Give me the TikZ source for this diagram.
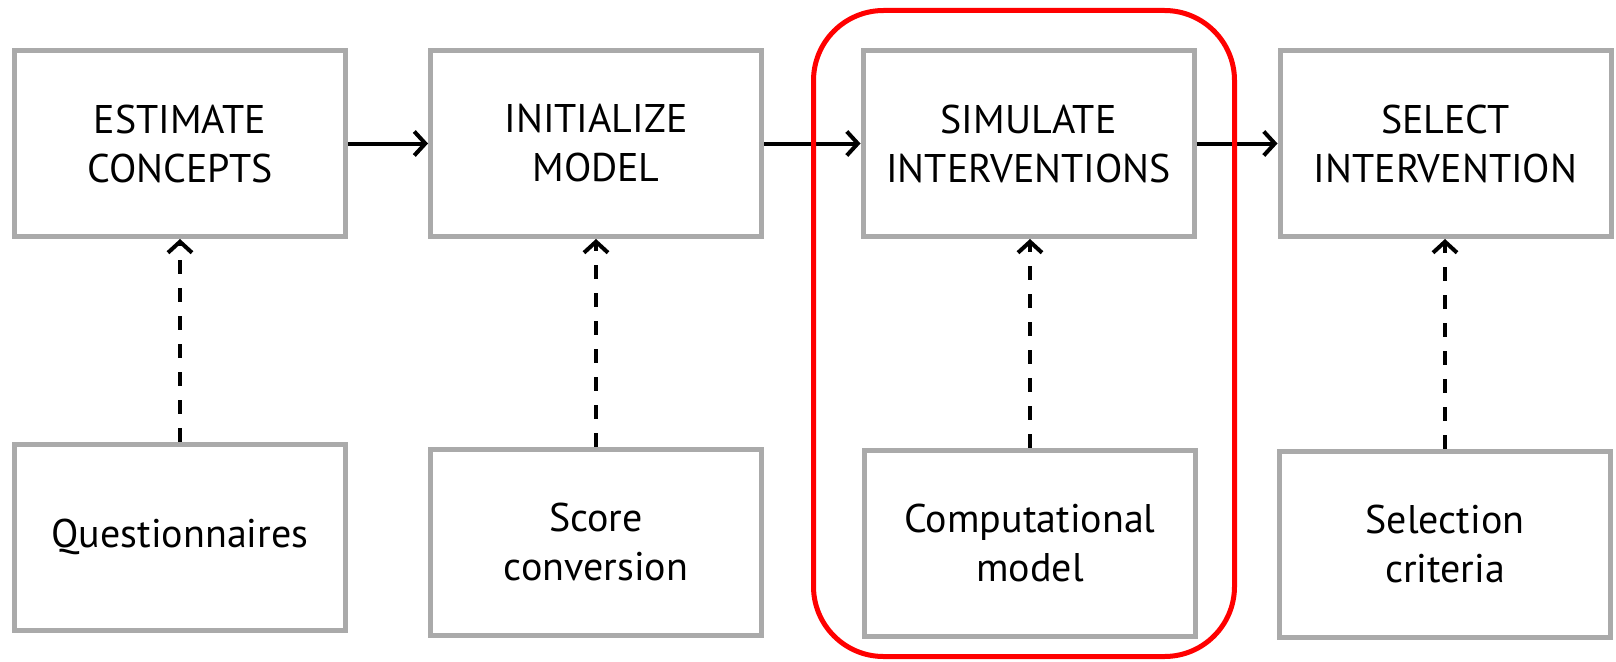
\documentclass[tikz,border=0pt]{standalone}
\usepackage{fontspec}
\setmainfont{PT Sans}
\usetikzlibrary{arrows.meta}
\definecolor{boxgray}{HTML}{AAAAAA}
\definecolor{hilite}{HTML}{FF0000}
\begin{document}
\begin{tikzpicture}[x=1pt,y=-1pt,
  box/.style={draw=boxgray, line width=5pt, fill=white, minimum width=331pt, minimum height=186pt,
    inner sep=0pt, align=center, font=\fontsize{40}{49}\selectfont},
  flow/.style={line width=4pt, -{Straight Barb[length=11pt,width=24pt,line width=4pt]}},
  feed/.style={flow, dash pattern=on 14pt off 14pt}
]
\useasboundingbox (0,0) rectangle (1616,661);
\node[box] (e1) at (180,143.5) {ESTIMATE\\CONCEPTS};
\node[box] (e2) at (596,143.5) {INITIALIZE\\MODEL};
\node[box] (e3) at (1028.5,143.5) {SIMULATE\\INTERVENTIONS};
\node[box] (e4) at (1445.5,143.5) {SELECT\\INTERVENTION};
\node[box] (b1) at (180,537) {Questionnaires};
\node[box] (b2) at (596,542) {Score\\conversion};
\node[box] (b3) at (1030,543) {Computational\\model};
\node[box] (b4) at (1445,544) {Selection\\criteria};
\draw[flow] (e1.east) -- (e2.west);
\draw[flow] (e2.east) -- (e3.west);
\draw[flow] (e3.east) -- (e4.west);
\draw[feed] (b1.north) -- (e1.south);
\draw[feed] (b2.north) -- (e2.south);
\draw[feed] (b3.north) -- (b3.north |- e3.south);
\draw[feed] (b4.north) -- (b4.north |- e4.south);
\node[draw=hilite, line width=5pt, rounded corners=70pt, minimum width=421pt, minimum height=646pt, inner sep=0pt] (focus) at (1024,333.5) {};
\end{tikzpicture}
\end{document}
